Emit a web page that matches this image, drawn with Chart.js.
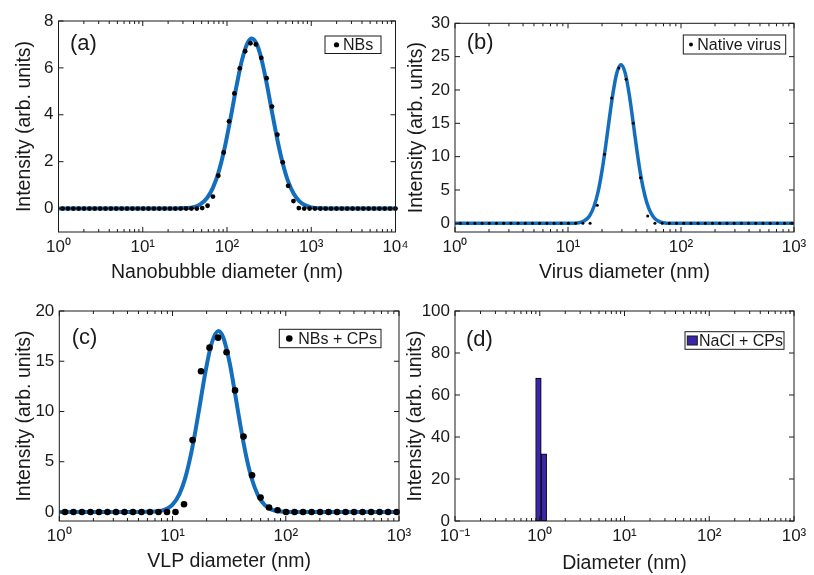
<!DOCTYPE html>
<html>
<head>
<meta charset="utf-8">
<script src="https://cdn.jsdelivr.net/npm/chart.js@4.4.1/dist/chart.umd.min.js"></script>
<style>
  body { margin: 0; background: #fff; }
  #wrap { position: relative; width: 814px; height: 575px; }
  .cell { position: absolute; }
</style>
</head>
<body>
<div id="wrap">
  <div class="cell" style="left:404px;top:0;width:410px;height:287px"><canvas id="chartB"></canvas></div>
  <div class="cell" style="left:404px;top:287px;width:410px;height:288px"><canvas id="chartD"></canvas></div>
  <div class="cell" style="left:0;top:0;width:420px;height:287px"><canvas id="chartA"></canvas></div>
  <div class="cell" style="left:0;top:287px;width:420px;height:288px"><canvas id="chartC"></canvas></div>
</div>
<script>
// (a) nanobubbles
const nbSizes = [1.117, 1.294, 1.499, 1.736, 2.010, 2.328, 2.696, 3.122, 3.615, 4.187, 4.849, 5.615, 6.503, 7.531, 8.721,
  10.10, 11.70, 13.54, 15.69, 18.17, 21.04, 24.36, 28.21, 32.67, 37.84, 43.82, 50.75, 58.77, 68.06, 78.82, 91.28,
  105.7, 122.4, 141.8, 164.2, 190.1, 220.2, 255.0, 295.3, 342.0, 396.1, 458.7, 531.2, 615.1, 712.4, 825.0, 955.4,
  1106, 1281, 1484, 1718, 1990, 2305, 2669, 3091, 3580, 4145, 4801, 5560, 6439, 7456, 8635, 10000];
const nbIntensity = [0, 0, 0, 0, 0, 0, 0, 0, 0, 0, 0, 0, 0, 0, 0,
  0, 0, 0, 0, 0, 0, 0, 0, 0, 0, 0, 0.02, 0.12, 0.51, 1.40, 2.39,
  3.72, 4.91, 5.98, 6.71, 7.05, 7.0, 6.43, 5.56, 4.35, 3.15, 1.97, 0.97, 0.32, 0.02, 0, 0,
  0, 0, 0, 0, 0, 0, 0, 0, 0, 0, 0, 0, 0, 0, 0, 0];
const nbFitSizes = [1, 10, 20, 25, 32, 40, 48, 58, 68, 80, 95, 110, 130, 150, 175, 197, 225, 255, 295, 340,
  400, 460, 530, 620, 720, 850, 1000, 1300, 2000, 10000];
const nbFitIntensity = [0, 0, 0, 0, 0.02, 0.06, 0.18, 0.45, 0.88, 1.59, 2.68, 3.84, 5.24, 6.31, 7.06, 7.25, 7.02, 6.41, 5.36, 4.17,
  2.86, 1.91, 1.17, 0.63, 0.32, 0.14, 0.05, 0.01, 0, 0];

// (b) native virus
const virusSizes = [1.117, 1.294, 1.499, 1.736, 2.010, 2.328, 2.696, 3.122, 3.615, 4.187, 4.849, 5.615, 6.503, 7.531, 8.721,
  10.10, 11.70, 13.54, 15.69, 18.17, 21.04, 24.36, 28.21, 32.67, 37.84, 43.82, 50.75, 58.77, 68.06, 78.82, 91.28,
  105.7, 122.4, 141.8, 164.2, 190.1, 220.2, 255.0, 295.3, 342.0, 396.1, 458.7, 531.2, 615.1, 712.4, 825.0, 955.4];
const virusIntensity = [0, 0, 0, 0, 0, 0, 0, 0, 0, 0, 0, 0, 0, 0, 0,
  0, 0, 0, 0, 2.7, 10.35, 18.8, 23.3, 21.6, 15.0, 6.85, 1.1, 0, 0, 0, 0,
  0, 0, 0, 0, 0, 0, 0, 0, 0, 0, 0, 0, 0, 0, 0, 0];
const virusFitSizes = [1, 10, 12.5, 14, 15.5, 17, 18.5, 20, 21.5, 23, 25, 27, 29.4, 32, 35, 38, 41, 44, 48, 52, 57, 63, 70, 80, 1000];
const virusFitIntensity = [0, 0, 0.1, 0.4, 1.1, 2.56, 4.8, 7.9, 11.5, 15.2, 19.5, 22.5, 23.8, 22.6, 19.1, 14.7, 10.6, 7.2, 4.1, 2.2, 0.95, 0.33, 0.09, 0, 0];

// (c) NBs + capsid proteins
const vlpSizes = [1.122, 1.334, 1.586, 1.885, 2.241, 2.664, 3.167, 3.765, 4.475, 5.320, 6.324, 7.518, 8.937, 10.62,
  12.63, 15.02, 17.85, 21.22, 25.22, 29.99, 35.65, 42.38, 50.38, 59.89, 71.19, 84.63, 100.6, 119.6, 142.2, 169.0,
  200.9, 238.8, 283.9, 337.5, 401.2, 476.9, 567.0, 674.0, 801.2, 952.5];
const vlpIntensity = [0, 0, 0, 0, 0, 0, 0, 0, 0, 0, 0, 0, 0, 0,
  0.77, 7.15, 14.0, 16.35, 17.35, 15.9, 12.1, 7.5, 3.66, 1.43, 0.44, 0.17, 0, 0, 0, 0,
  0, 0, 0, 0, 0, 0, 0, 0, 0, 0];
const vlpFitSizes = [1, 5, 6, 7, 8, 9, 10, 11.5, 13, 15, 17, 19.5, 22, 25.4, 28, 32, 36, 40, 45, 50, 57, 65, 75, 90, 110, 1000];
const vlpFitIntensity = [0, 0, 0.01, 0.04, 0.13, 0.34, 0.73, 1.78, 3.44, 6.47, 9.92, 13.9, 16.67, 18.0, 17.38, 14.8, 11.5, 8.43,
  5.41, 3.33, 1.63, 0.70, 0.24, 0.05, 0, 0];

// (d) NaCl + capsid proteins
const saltSizes = [0.9649, 1.117];
const saltIntensity = [68, 32];

const xTicksA = [1, 10, 100, 1000, 10000];
const yTicksA = [0, 2, 4, 6, 8];
const xTicksB = [1, 10, 100, 1000];
const yTicksB = [0, 5, 10, 15, 20, 25, 30];
const xTicksC = [1, 10, 100, 1000];
const yTicksC = [0, 5, 10, 15, 20];
const xTicksD = [0.1, 1, 10, 100, 1000];
const yTicksD = [0, 20, 40, 60, 80, 100];

const BLUE = 'rgb(20,110,190)';
const BAR = 'rgb(58,38,166)';
const INK = '#1a1a1a';

Chart.defaults.font.family = '"Liberation Sans", Arial, Helvetica, sans-serif';
Chart.defaults.color = INK;

const SUP = {'-': '\u207B', '0': '\u2070', '1': '\u00B9', '2': '\u00B2', '3': '\u00B3', '4': '\u2074'};
function powerLabel(v) {
  const e = String(Math.round(Math.log10(v)));
  return '10' + e.split('').map(c => SUP[c]).join('');
}

function pts(xs, ys) {
  return xs.map((x, i) => ({x: x, y: ys[i]}));
}

// box, inward ticks, panel letter and boxed legend, drawn the way the matlab figure has them
const panelDecor = {
  id: 'panelDecor',
  afterDatasetsDraw(chart, args, opts) {
    const ctx = chart.ctx;
    const a = chart.chartArea;
    const xs = chart.scales.x, ys = chart.scales.y;
    ctx.save();
    ctx.strokeStyle = INK;
    ctx.lineWidth = 1;
    ctx.strokeRect(a.left, a.top, a.right - a.left, a.bottom - a.top);

    ctx.beginPath();
    const e0 = Math.round(Math.log10(xs.min)), e1 = Math.round(Math.log10(xs.max));
    for (let e = e0; e <= e1; e++) {
      for (let m = 1; m <= 9; m++) {
        if (e === e1 && m > 1) break;
        const px = xs.getPixelForValue(m * Math.pow(10, e));
        const len = m === 1 ? 5 : 3;
        ctx.moveTo(px, a.bottom); ctx.lineTo(px, a.bottom - len);
        ctx.moveTo(px, a.top); ctx.lineTo(px, a.top + len);
      }
    }
    ys.ticks.forEach(t => {
      const py = ys.getPixelForValue(t.value);
      ctx.moveTo(a.left, py); ctx.lineTo(a.left + 5, py);
      ctx.moveTo(a.right, py); ctx.lineTo(a.right - 5, py);
    });
    ctx.stroke();

    ctx.fillStyle = INK;
    ctx.textBaseline = 'middle';
    ctx.textAlign = 'left';
    ctx.font = '22px "Liberation Sans", Arial, sans-serif';
    ctx.fillText(opts.label, opts.lx, opts.ly);

    const lg = opts.legend;
    const ds = chart.data.datasets[0];
    ctx.fillStyle = '#fff';
    ctx.fillRect(lg.x, lg.y, lg.w, lg.h);
    ctx.strokeRect(lg.x, lg.y, lg.w, lg.h);
    const cy = lg.y + lg.h / 2;
    if (lg.marker === 'box') {
      ctx.fillStyle = ds.backgroundColor;
      ctx.fillRect(lg.mx - 5, cy - 4.5, 10, 9);
      ctx.strokeRect(lg.mx - 5, cy - 4.5, 10, 9);
    } else {
      ctx.fillStyle = '#000';
      ctx.beginPath();
      ctx.arc(lg.mx, cy, lg.r, 0, Math.PI * 2);
      ctx.fill();
    }
    ctx.fillStyle = INK;
    ctx.font = '16px "Liberation Sans", Arial, sans-serif';
    ctx.fillText(ds.label, lg.tx, cy + 1);
    ctx.restore();
  }
};
Chart.register(panelDecor);

function xAxis(min, max, ticks, title, height, titlePad) {
  return {
    type: 'logarithmic',
    min: min, max: max,
    grid: {display: false, drawTicks: false},
    border: {display: false},
    afterBuildTicks: s => { s.ticks = ticks.map(v => ({value: v})); },
    afterFit: s => { s.height = height; s.paddingLeft = 0; s.paddingRight = 0; },
    ticks: {autoSkip: false, maxRotation: 0, padding: 5, font: {size: 17}, callback: v => powerLabel(v)},
    title: {display: true, text: title, font: {size: 19.5, lineHeight: 1.2}, padding: {top: 0, bottom: titlePad}}
  };
}

function yAxis(min, max, ticks, width, titlePad) {
  return {
    min: min, max: max,
    grid: {display: false, drawTicks: false},
    border: {display: false},
    afterBuildTicks: s => { s.ticks = ticks.map(v => ({value: v})); },
    afterFit: s => { s.width = width; s.paddingTop = 0; s.paddingBottom = 0; },
    ticks: {padding: 5, font: {size: 17}},
    title: {display: true, text: 'Intensity (arb. units)', font: {size: 19.5, lineHeight: 1.2}, padding: {top: titlePad, bottom: 0}}
  };
}

function curvePanel(id, p) {
  return new Chart(document.getElementById(id), {
    type: 'scatter',
    data: {
      datasets: [{
        label: p.label,
        data: pts(p.sizes, p.values),
        backgroundColor: '#000',
        borderColor: '#000',
        pointRadius: p.dot,
        pointBorderWidth: 0,
        clip: false,
        order: 0
      }, {
        label: 'fit',
        data: pts(p.fitSizes, p.fitValues),
        showLine: true,
        borderColor: BLUE,
        borderWidth: p.lw,
        pointRadius: 0,
        cubicInterpolationMode: 'monotone',
        order: 1
      }]
    },
    options: {
      responsive: true,
      maintainAspectRatio: false,
      animation: false,
      layout: {padding: p.pad},
      plugins: {legend: {display: false}, tooltip: {enabled: false}, panelDecor: p.decor},
      scales: {x: p.x, y: p.y}
    }
  });
}

curvePanel('chartA', {
  label: 'NBs', sizes: nbSizes, values: nbIntensity, fitSizes: nbFitSizes, fitValues: nbFitIntensity,
  dot: 2.4, lw: 4,
  pad: {left: 0, top: 21, right: 24.5, bottom: 0},
  x: xAxis(1, 10000, xTicksA, 'Nanobubble diameter (nm)', 55, 2.3),
  y: yAxis(-1, 8, yTicksA, 58.5, 13.3),
  decor: {label: '(a)', lx: 70, ly: 44, legend: {x: 325, y: 36, w: 56, h: 17.5, mx: 336.5, tx: 343, r: 2.6}}
});

curvePanel('chartB', {
  label: 'Native virus', sizes: virusSizes, values: virusIntensity, fitSizes: virusFitSizes, fitValues: virusFitIntensity,
  dot: 1.5, lw: 3.5,
  pad: {left: 0, top: 23.3, right: 20, bottom: 0},
  x: xAxis(1, 1000, xTicksB, 'Virus diameter (nm)', 55, 2.3),
  y: yAxis(-1.3, 30, yTicksB, 51, 0.6),
  decor: {label: '(b)', lx: 62.7, ly: 43, legend: {x: 279.3, y: 35, w: 102.4, h: 19, mx: 287, tx: 293.3, r: 2}}
});

curvePanel('chartC', {
  label: 'NBs + CPs', sizes: vlpSizes, values: vlpIntensity, fitSizes: vlpFitSizes, fitValues: vlpFitIntensity,
  dot: 3.3, lw: 4,
  pad: {left: 0, top: 24, right: 21, bottom: 0},
  x: xAxis(1, 1000, xTicksC, 'VLP diameter (nm)', 54, 1.6),
  y: yAxis(-0.9, 20, yTicksC, 59.3, 13.3),
  decor: {label: '(c)', lx: 71.7, ly: 51, legend: {x: 279.3, y: 42.3, w: 101.7, h: 18.4, mx: 289.3, tx: 298.3, r: 3.3}}
});

new Chart(document.getElementById('chartD'), {
  type: 'bar',
  data: {
    datasets: [{
      label: 'NaCl + CPs',
      data: pts(saltSizes, saltIntensity),
      backgroundColor: BAR,
      borderColor: '#000',
      borderWidth: 1,
      borderSkipped: false,
      barThickness: 5.6
    }]
  },
  options: {
    responsive: true,
    maintainAspectRatio: false,
    animation: false,
    layout: {padding: {left: 0, top: 24, right: 20, bottom: 0}},
    plugins: {
      legend: {display: false},
      tooltip: {enabled: false},
      panelDecor: {label: '(d)', lx: 62, ly: 53, legend: {x: 281, y: 44.7, w: 99, h: 17.6, mx: 288.3, tx: 295, marker: 'box'}}
    },
    scales: {
      x: xAxis(0.1, 1000, xTicksD, 'Diameter (nm)', 54, 0),
      y: yAxis(0, 100, yTicksD, 51, 0)
    }
  }
});
</script>
</body>
</html>
